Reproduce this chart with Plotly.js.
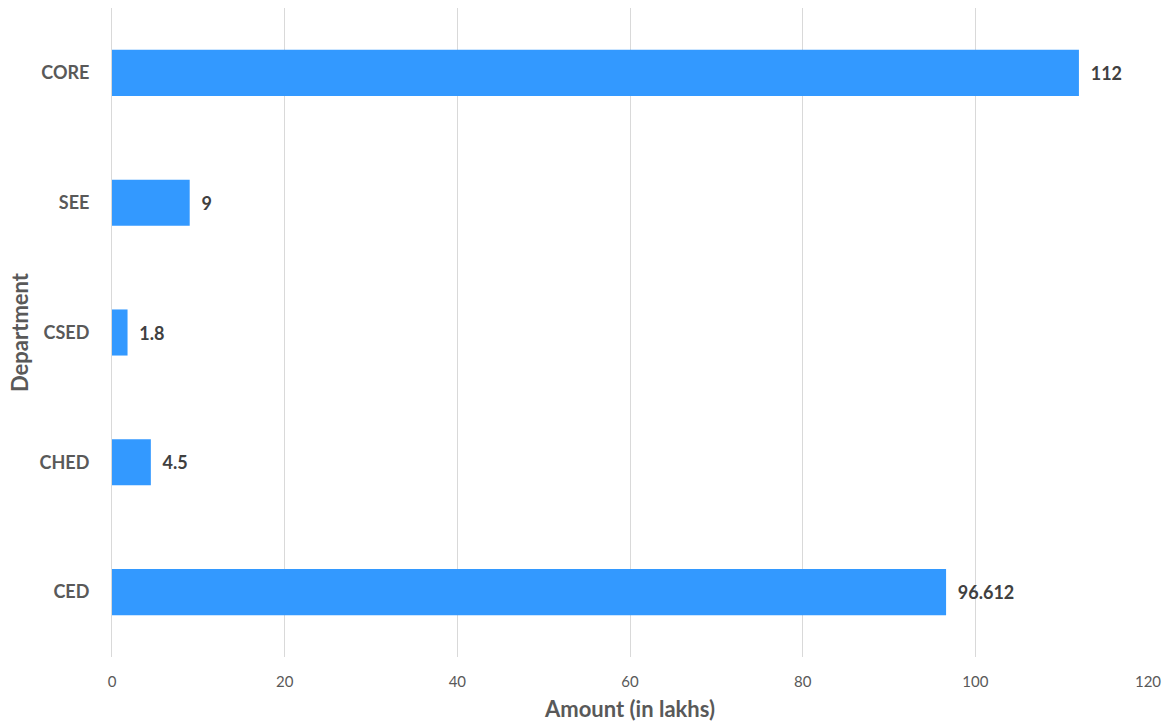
<!DOCTYPE html>
<html>
<head>
<meta charset="utf-8">
<script src="https://cdn.plot.ly/plotly-3.0.1.min.js"></script>
<style>html,body{margin:0;padding:0;background:#fff;}#chart{width:1172px;height:724px;}</style>
</head>
<body>
<div id="chart"></div>
<script>
const departments = ["CED", "CHED", "CSED", "SEE", "CORE"];
const amounts = [96.612, 4.5, 1.8, 9, 112];
const amountLabels = ["96.612", "4.5", "1.8", "9", "112"];
const xTickValues = [0, 20, 40, 60, 80, 100, 120];

const FONT = "Lato, 'Open Sans', 'Liberation Sans', sans-serif";

const data = [{
  type: "bar",
  orientation: "h",
  y: departments,
  x: amounts,
  text: amountLabels,
  texttemplate: "  %{text}",
  textposition: "outside",
  cliponaxis: false,
  textfont: {family: FONT, size: 18, color: "#404040", weight: "bold"},
  marker: {color: "#3399FF"},
  hoverinfo: "x+y"
}];

const layout = {
  width: 1172,
  height: 724,
  margin: {l: 112, r: 24, t: 8, b: 67},
  paper_bgcolor: "#ffffff",
  plot_bgcolor: "#ffffff",
  bargap: 0.645,
  showlegend: false,
  font: {family: FONT, color: "#595959"},
  xaxis: {
    range: [0, 120],
    tickvals: xTickValues,
    ticktext: xTickValues.map(String),
    showgrid: true,
    gridcolor: "#d9d9d9",
    gridwidth: 1,
    zeroline: false,
    showline: false,
    ticks: "",
    ticklen: 0,
    ticklabelstandoff: 14,
    tickfont: {family: FONT, size: 15, color: "#595959"},
    title: {text: "Amount (in lakhs)", font: {family: FONT, size: 22, color: "#595959", weight: "bold"}, standoff: 12},
    fixedrange: true
  },
  yaxis: {
    type: "category",
    categoryorder: "array",
    categoryarray: departments,
    showgrid: false,
    zeroline: false,
    showline: true,
    linecolor: "#d9d9d9",
    linewidth: 1,
    ticks: "",
    ticklabelstandoff: 18,
    tickfont: {family: FONT, size: 18, color: "#595959", weight: "bold"},
    title: {text: "Department", font: {family: FONT, size: 22, color: "#595959", weight: "bold"}, standoff: 4},
    fixedrange: true
  }
};

Plotly.newPlot("chart", data, layout, {displayModeBar: false, staticPlot: true});
</script>
</body>
</html>
